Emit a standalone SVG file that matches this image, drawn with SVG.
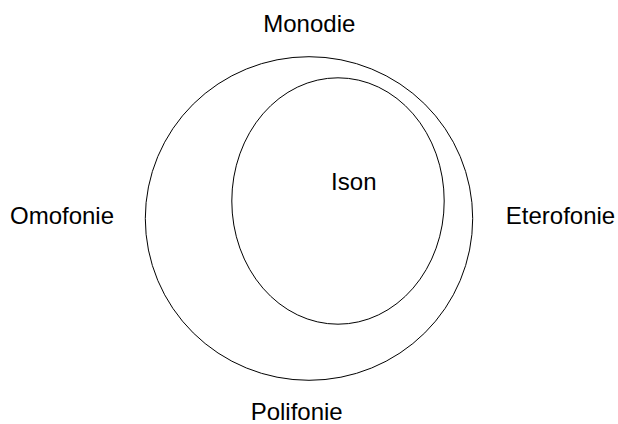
<svg xmlns="http://www.w3.org/2000/svg" width="618" height="424" viewBox="0 0 618 424">
<style>
.lbl{font-family:"Liberation Sans",Arial,sans-serif;font-size:24px;fill:#000;text-anchor:middle}
.ring{fill:none;stroke:#000;stroke-width:1}
</style>
<rect width="618" height="424" fill="#fff"/>
<g id="connectors"></g>
<g id="outer"><ellipse class="ring" cx="309" cy="218.5" rx="163.7" ry="161.8"/></g>
<g id="inner"><ellipse class="ring" cx="338" cy="201" rx="106.2" ry="123.2"/></g>
<g id="monodie"><text class="lbl" x="309.3" y="32">Monodie</text></g>
<g id="ison"><text class="lbl" x="353.8" y="189.5">Ison</text></g>
<g id="omofonie"><text class="lbl" x="62" y="223.5">Omofonie</text></g>
<g id="eterofonie"><text class="lbl" x="560.5" y="223.5">Eterofonie</text></g>
<g id="polifonie"><text class="lbl" x="296.7" y="419.5">Polifonie</text></g>
</svg>
